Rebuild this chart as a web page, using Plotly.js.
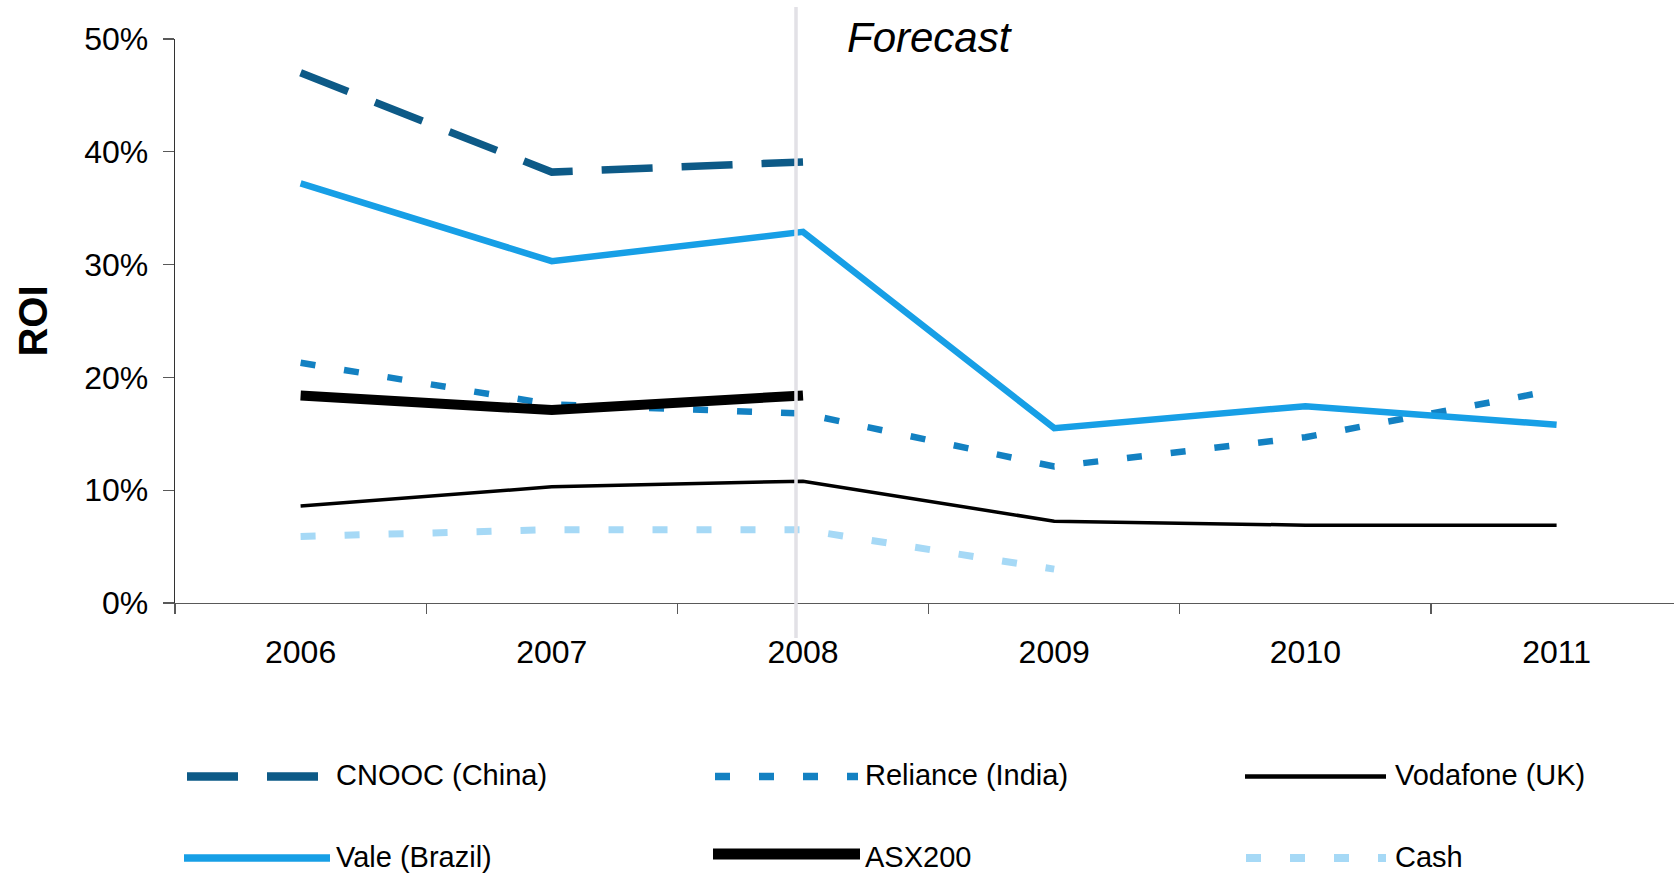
<!DOCTYPE html>
<html>
<head>
<meta charset="utf-8">
<script src="https://cdn.plot.ly/plotly-3.0.1.min.js"></script>
<style>
  html, body { margin: 0; padding: 0; background: #ffffff; }
  #chart { width: 1674px; height: 874px; }
</style>
</head>
<body>
<div id="chart"></div>
<script>
// ---- data ----
const years = ['2006', '2007', '2008', '2009', '2010', '2011'];
const cnooc    = [0.470, 0.382, 0.391, null, null, null];
const reliance = [0.213, 0.176, 0.168, 0.121, 0.147, 0.189];
const vodafone = [0.086, 0.103, 0.108, 0.0725, 0.069, 0.069];
const vale     = [0.372, 0.303, 0.329, 0.155, 0.1745, 0.158];
const asx200   = [0.184, 0.171, 0.184, null, null, null];
const cash     = [0.059, 0.065, 0.065, 0.030, null, null];
const seriesNames = ['CNOOC (China)', 'Reliance (India)', 'Vodafone (UK)', 'Vale (Brazil)', 'ASX200', 'Cash'];
const yTickVals = [0, 0.1, 0.2, 0.3, 0.4, 0.5];
const yTickText = ['0%', '10%', '20%', '30%', '40%', '50%'];
const yTitle = 'ROI';
const forecastLabel = 'Forecast';

// ---- styles ----
const FONT = 'Liberation Sans, Arial, sans-serif';
const styles = [
  {color: '#0d5a87', width: 7.5, dash: '51px,29px'},
  {color: '#1381c2', width: 6.5, dash: '15px,29px'},
  {color: '#000000', width: 3.5, dash: 'solid'},
  {color: '#179fe6', width: 6.5, dash: 'solid'},
  {color: '#000000', width: 10,  dash: 'solid'},
  {color: '#a6d9f6', width: 7,   dash: '15px,29px'}
];
const values = [cnooc, reliance, vodafone, vale, asx200, cash];

const W = 1674, H = 874;
const M = {l: 175, r: 0, t: 39, b: 271};
const PW = W - M.l - M.r, PH = H - M.t - M.b;
const px = x => (x - M.l) / PW;
const py = y => (H - M.b - y) / PH;

const traces = values.map((v, i) => ({
  type: 'scatter', mode: 'lines', x: years, y: v, name: seriesNames[i],
  line: {color: styles[i].color, width: styles[i].width, dash: styles[i].dash},
  connectgaps: false, showlegend: false, hoverinfo: 'skip'
}));

// legend geometry (pixels)
const legendItems = [
  {x0: 187, x1: 320, ly: 776.5, tx: 334, ty: 775},
  {x0: 715, x1: 858, ly: 776.5, tx: 863, ty: 775},
  {x0: 1245, x1: 1386, ly: 776.5, tx: 1393, ty: 775},
  {x0: 184, x1: 330, ly: 858, tx: 334, ty: 857},
  {x0: 713, x1: 860, ly: 854, tx: 863, ty: 857},
  {x0: 1246, x1: 1386, ly: 858, tx: 1393, ty: 857}
];

const shapes = [
  {type: 'line', xref: 'paper', yref: 'paper', x0: px(796), x1: px(796), y0: py(7), y1: py(638),
   line: {color: '#e2e1e6', width: 3.5}, layer: 'above'}
];
const annotations = [
  {xref: 'paper', yref: 'paper', x: px(930), y: py(37), xanchor: 'center', yanchor: 'middle',
   text: forecastLabel, showarrow: false, font: {family: FONT, size: 42, color: '#000', style: 'italic'}}
];
legendItems.forEach((it, i) => {
  shapes.push({type: 'line', xref: 'paper', yref: 'paper', x0: px(it.x0), x1: px(it.x1),
    y0: py(it.ly), y1: py(it.ly),
    line: {color: styles[i].color, width: Math.min(styles[i].width + 1, 11), dash: styles[i].dash}});
  annotations.push({xref: 'paper', yref: 'paper', x: px(it.tx), y: py(it.ty), xanchor: 'left', yanchor: 'middle',
    text: seriesNames[i], showarrow: false, font: {family: FONT, size: 29, color: '#000'}});
});

const layout = {
  width: W, height: H,
  margin: M,
  paper_bgcolor: '#ffffff', plot_bgcolor: '#ffffff',
  font: {family: FONT, size: 32, color: '#000'},
  showlegend: false,
  xaxis: {
    type: 'category', range: [-0.5, -0.5 + PW / 251.2], fixedrange: true,
    tickson: 'boundaries', ticks: 'outside', ticklen: 10, tickwidth: 1.3, tickcolor: '#595959',
    showline: true, linecolor: '#595959', linewidth: 1.3, showgrid: false, zeroline: false,
    tickfont: {family: FONT, size: 32, color: '#000'}, ticklabelstandoff: 20, automargin: false
  },
  yaxis: {
    range: [0, 0.5], tickvals: yTickVals, ticktext: yTickText,
    ticks: 'outside', ticklen: 11, tickwidth: 1.3, tickcolor: '#595959',
    showline: true, linecolor: '#333333', linewidth: 1.3, showgrid: false, zeroline: false,
    tickfont: {family: FONT, size: 32, color: '#000'}, ticklabelstandoff: 8, automargin: false,
    title: {text: yTitle, font: {family: FONT, size: 40, color: '#000', weight: 'bold'}, standoff: 24}
  },
  shapes: shapes,
  annotations: annotations
};

Plotly.newPlot('chart', traces, layout, {staticPlot: true, displayModeBar: false});
</script>
</body>
</html>
